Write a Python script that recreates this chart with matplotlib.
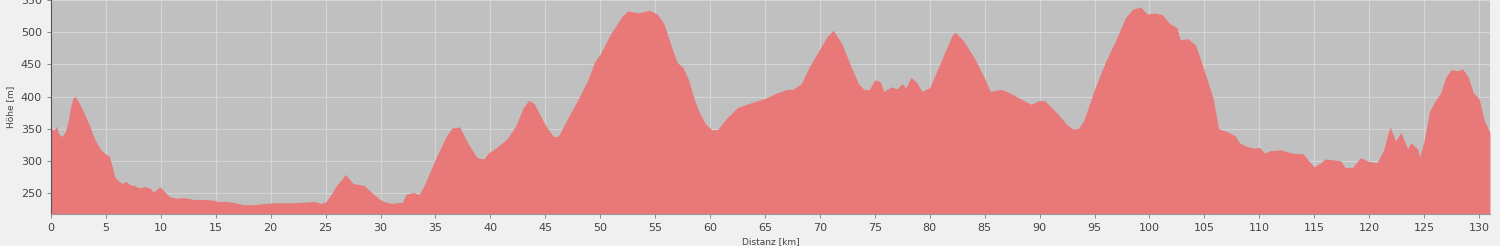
import matplotlib
matplotlib.use("Agg")
import matplotlib.pyplot as plt

distance_km = [0, 0.3, 0.5, 0.7, 1.0, 1.3, 1.6, 1.8, 2.0, 2.2, 2.5, 3.0, 3.5, 4.0, 4.5, 5.0, 5.3, 5.6, 5.8,
               6.2, 6.5, 6.8, 7.2, 7.6, 8.0, 8.5, 9.0, 9.3, 9.6, 9.9, 10.3, 10.8, 11.5, 12, 12.5, 13, 14,
               14.8, 15.2, 16, 16.8, 17.5, 18.5, 19.5, 20.5, 22, 23, 24, 24.5, 25, 25.5, 26, 26.5, 26.8,
               27.5, 28.5, 29.0, 29.8, 30.3, 31, 32, 32.3, 33, 33.5, 34, 35, 36, 36.5, 37.2, 38, 38.8,
               39.4, 39.8, 40.5, 41.5, 42.3, 43.0, 43.5, 44, 44.8, 45.3, 45.8, 46.2, 47, 48, 48.8, 49.5,
               50, 51, 52, 52.5, 53.5, 54.5, 55.2, 55.8, 56.5, 57, 57.5, 58, 58.5, 59, 59.6, 60.2, 60.7,
               61.5, 62.5, 63.5, 65, 66, 67, 67.5, 68.3, 69, 70, 70.6, 71.2, 72, 72.8, 73.5, 74, 74.5,
               75, 75.5, 75.8, 76.5, 77, 77.5, 77.8, 78.3, 78.8, 79.3, 80, 81, 82, 82.3, 83, 84, 85,
               85.5, 86.5, 87, 88, 89.2, 90, 90.5, 91.5, 92.5, 93, 93.5, 94, 95, 96, 97, 97.8, 98.5,
               99.2, 99.8, 100.5, 101.2, 101.8, 102.5, 102.8, 103.5, 104.2, 105, 105.8, 106.3, 107,
               107.8, 108.2, 108.8, 109.5, 110, 110.5, 111, 112, 113, 114, 114.5, 115, 115.5, 116,
               116.6, 117.4, 117.8, 118.5, 119.2, 120, 120.7, 121.3, 121.9, 122.4, 122.9, 123.5, 123.8,
               124.4, 124.6, 125, 125.5, 126, 126.5, 127, 127.5, 128, 128.5, 129, 129.5, 130, 130.5, 131]

elevation_m = [350, 348, 354, 342, 338, 345, 365, 385, 398, 400, 392, 375, 355, 333, 318, 310, 308, 290, 275,
               268, 265, 268, 263, 262, 258, 260, 258, 252, 255, 260, 253, 244, 242, 243, 242, 240, 240,
               239, 237, 237, 235, 232, 232, 234, 235, 235, 236, 237, 234, 236, 248, 262, 272, 279,
               265, 262, 254, 242, 237, 234, 236, 248, 251, 248, 263, 303, 339, 351, 353, 326, 305,
               303, 312, 320, 334, 354, 383, 394, 389, 362, 348, 337, 339, 365, 396, 423, 454,
               466, 499, 525, 533, 530, 534, 528, 513, 477, 453, 446, 428, 399, 376, 357, 348, 349,
               366, 383, 389, 397, 405, 411, 411, 420, 445, 474, 492, 503, 482, 448, 420, 411, 411,
               426, 423, 408, 415, 412, 420, 413, 430, 422, 408, 414, 454, 494, 500, 488, 462, 428,
               408, 411, 408, 399, 388, 394, 393, 376, 356, 350, 350, 362, 411, 454, 490, 522, 536,
               539, 528, 530, 527, 514, 507, 488, 490, 480, 440, 397, 350, 346,
               339, 328, 323, 320, 321, 312, 316, 317, 312, 311, 300, 291, 296, 303,
               302, 300, 290, 290, 305, 299, 297, 316, 353, 331, 344, 319, 328,
               319, 306, 331, 377, 393, 405, 431, 442, 440, 443, 431, 405, 397, 362, 344]

y_ticks = [250, 300, 350, 400, 450, 500, 550]
x_ticks = list(range(0, 131, 5))

fig = plt.figure(figsize=(15, 2.46), dpi=100, facecolor="#f0f0f0")
ax = fig.add_axes([0.034, 0.13, 0.9593, 0.87])
ax.set_facecolor("#c0c0c0")
ax.fill_between(distance_km, elevation_m, 200, color="#e97878", linewidth=0)
ax.set_xlim(0, 131)
ax.set_ylim(217.5, 546.5)
ax.set_xticks(x_ticks)
ax.set_yticks(y_ticks)
ax.grid(True, color="#d4d4d4", linewidth=0.8)
ax.set_axisbelow(True)
ax.tick_params(axis="both", labelsize=8, colors="#777777", length=3, width=0.6)
ax.tick_params(axis="both", labelcolor="#444444")
for s in ["top", "right"]:
    ax.spines[s].set_visible(False)
ax.spines["left"].set_color("#555555")
ax.spines["bottom"].set_color("#999999")
ax.set_xlabel("Distanz [km]", fontsize=6.5, color="#444444", labelpad=3)
ax.set_ylabel("Höhe [m]", fontsize=6.5, color="#444444", labelpad=4)
fig.savefig("out.png", dpi=100, facecolor=fig.get_facecolor())
